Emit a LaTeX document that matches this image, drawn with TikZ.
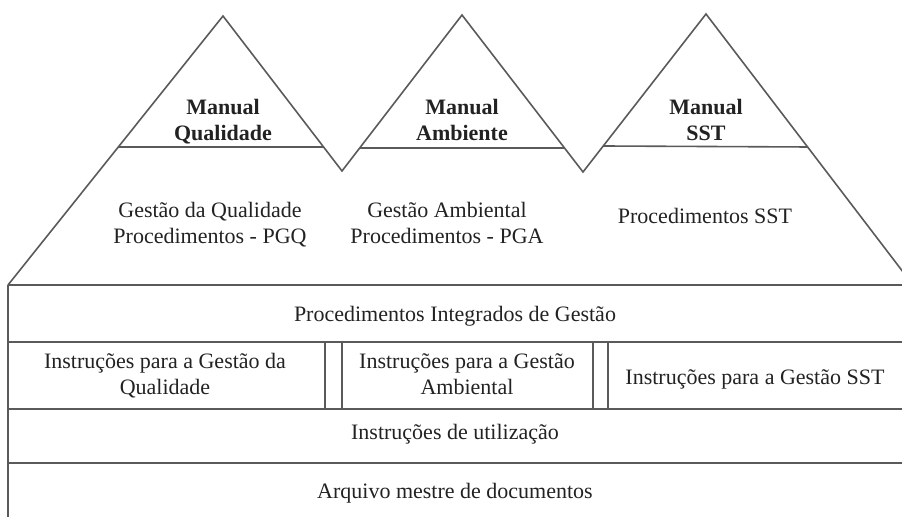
\documentclass[tikz,border=0pt]{standalone}
\usepackage{fontspec}
\setmainfont{Liberation Serif}
\usepackage{tikz}
\usetikzlibrary{positioning}
\definecolor{linegray}{HTML}{5A5A5A}
\definecolor{textgray}{HTML}{222222}

\begin{document}
\begin{tikzpicture}[x=0.5pt,y=-0.5pt,
    edge/.style={draw=linegray,line width=0.8pt},
    txt/.style={text=textgray,align=center,inner sep=0pt,
        font=\fontsize{11}{13}\selectfont},
    title/.style={txt,font=\fontsize{11}{13}\selectfont\bfseries}
]
    \clip (0,0) rectangle (902,517);

    % peaks and valleys
    \coordinate (b1) at (8,285);
    \coordinate (p1) at (223,16);
    \coordinate (v1) at (342,171);
    \coordinate (p2) at (462,15);
    \coordinate (v2) at (583,172);
    \coordinate (p3) at (706,14);
    \coordinate (b2) at (913,285);

    \draw[edge] (b1) -- (p1) -- (v1) -- (p2) -- (v2) -- (p3) -- (b2);
    \draw[edge] (118,147) -- (323,147);
    \draw[edge] (360,148) -- (564,148);
    \draw[edge] (603,146) -- (808,147);

    % rows
    \draw[edge] (8,285) -- (910,285);
    \draw[edge] (8,342) -- (910,342);
    \draw[edge] (8,409) -- (910,409);
    \draw[edge] (8,463) -- (910,463);
    \draw[edge] (8,285) -- (8,520);
    \draw[edge] (325,342) -- (325,409);
    \draw[edge] (342,342) -- (342,409);
    \draw[edge] (593,342) -- (593,409);
    \draw[edge] (608,342) -- (608,409);

    \node[title] (mq) at (223,122) {\strut Manual\\\strut Qualidade};
    \node[title] (ma) at (462,122) {\strut Manual\\\strut Ambiente};
    \node[title] (ms) at (706,122) {\strut Manual\\\strut SST};

    \node[txt] (gq) at (210,225) {\strut Gestão da Qualidade\\\strut Procedimentos - PGQ};
    \node[txt] (ga) at (447,225) {\strut Gestão Ambiental\\\strut Procedimentos - PGA};
    \node[txt] (ps) at (705,218) {\strut Procedimentos SST};

    \node[txt] (pig) at (455,316) {\strut Procedimentos Integrados de Gestão};
    \node[txt] (iq) at (165,376) {\strut Instruções para a Gestão da\\\strut Qualidade};
    \node[txt] (ia) at (467,376) {\strut Instruções para a Gestão\\\strut Ambiental};
    \node[txt] (is) at (755,379) {\strut Instruções para a Gestão SST};
    \node[txt] (iu) at (455,434) {\strut Instruções de utilização};
    \node[txt] (am) at (455,493) {\strut Arquivo mestre de documentos};
\end{tikzpicture}
\end{document}
